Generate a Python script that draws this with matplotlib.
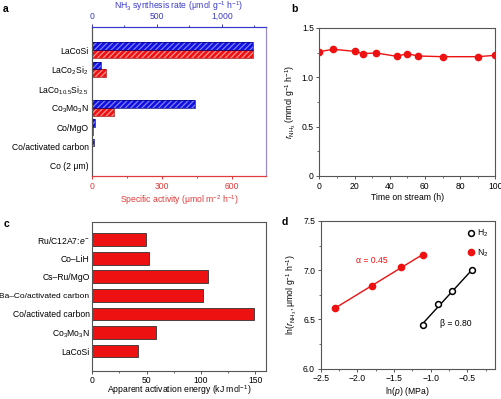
import numpy as np
import matplotlib
matplotlib.use("Agg")
import matplotlib.pyplot as plt
from matplotlib.ticker import MultipleLocator, FixedLocator

plt.rcParams['font.family'] = ['Liberation Sans', 'DejaVu Sans']
plt.rcParams['mathtext.fontset'] = 'custom'
plt.rcParams['mathtext.rm'] = 'Liberation Sans'
plt.rcParams['mathtext.it'] = 'Liberation Sans:italic'
plt.rcParams['mathtext.bf'] = 'Liberation Sans:bold'
plt.rcParams['font.size'] = 6.2
plt.rcParams['axes.linewidth'] = 0.8
plt.rcParams['hatch.linewidth'] = 0.9

# --- panel a: catalysts, rate (top axis) and specific activity (bottom axis)
cat_a = ['LaCoSi', 'LaCo$_2$Si$_2$', 'LaCo$_{10.5}$Si$_{2.5}$', 'Co$_3$Mo$_3$N',
         'Co/MgO', 'Co/activated carbon', 'Co (2 μm)']
rate_a = [1243, 69, 3, 795, 20, 16, 2]
spec_a = [693, 60, 2, 96, 4, 2, 1]

# --- panel b: stability test
time_b = [0, 8, 20, 25, 32, 44, 50, 56, 70, 90, 100]
rnh3_b = [1.26, 1.284, 1.263, 1.24, 1.247, 1.213, 1.24, 1.216, 1.209, 1.209, 1.223]

# --- panel c: apparent activation energy
cat_c = ['Ru/C12A7:$e^{-}$', 'Co–LiH', 'Cs–Ru/MgO', 'Ba–Co/activated carbon',
         'Co/activated carbon', 'Co$_3$Mo$_3$N', 'LaCoSi']
ea_c = [49, 52, 106.6, 102, 149, 59, 42.4]

# --- panel d: reaction orders
lnp_n2 = [-2.31, -1.80, -1.40, -1.11]
lnr_n2 = [6.613, 6.836, 7.036, 7.155]
lnp_h2 = [-1.11, -0.895, -0.705, -0.432]
lnr_h2 = [6.44, 6.653, 6.789, 6.999]

BLUE = '#1010e0'
RED = '#ee1111'
AXBLUE = '#3a3ac8'
AXRED = '#e03a3a'
GRAY = '#555555'

fig = plt.figure(figsize=(5.02, 3.99), dpi=100)


def style_box(ax):
    for s in ax.spines.values():
        s.set_color(GRAY)
    ax.tick_params(which='major', direction='out', length=2.5, width=0.7, color=GRAY, pad=1.5)
    ax.tick_params(which='minor', direction='out', length=1.5, width=0.6, color=GRAY)


# ---------- a
axa = fig.add_axes([0.1833, 0.559, 0.3466, 0.374])
axt = axa.twiny()
ya = np.arange(len(cat_a))[::-1]
h = 0.4
axa.barh(ya - h / 2, spec_a, height=h, color=RED, edgecolor='#ff9090', hatch='//////', linewidth=0)
axa.barh(ya - h / 2, spec_a, height=h, fill=False, edgecolor='#aa0000', linewidth=0.5)
axt.barh(ya + h / 2, rate_a, height=h, color=BLUE, edgecolor='#8080ff', hatch='//////', linewidth=0)
axt.barh(ya + h / 2, rate_a, height=h, fill=False, edgecolor='#000080', linewidth=0.5)
axa.set_xlim(0, 747)
axt.set_xlim(0, 1340)
axa.set_ylim(-0.53, 7.21)
axa.set_yticks(ya)
axa.set_yticklabels(cat_a)
axa.tick_params(axis='y', length=0, pad=2.5)
axa.xaxis.set_major_locator(FixedLocator([0, 300, 600]))
axa.xaxis.set_minor_locator(FixedLocator([150, 450]))
axt.xaxis.set_major_locator(FixedLocator([0, 500, 1000]))
axt.xaxis.set_minor_locator(FixedLocator([250, 750, 1250]))
axt.set_xticklabels(['0', '500', '1,000'])
axa.tick_params(axis='x', which='both', colors=AXRED, direction='out', length=2.5, width=0.7, pad=2)
axa.tick_params(axis='x', which='minor', length=1.5)
axt.tick_params(axis='x', which='both', colors=AXBLUE, direction='out', length=2.5, width=0.7, pad=1.5)
axt.tick_params(axis='x', which='minor', length=1.5)
for ax in (axa, axt):
    ax.spines['bottom'].set_color(AXRED)
    ax.spines['top'].set_color(AXBLUE)
    ax.spines['left'].set_color(GRAY)
    ax.spines['right'].set_color('#9a8aca')
axa.set_xlabel('Specific activity (μmol m$^{-2}$ h$^{-1}$)', color=AXRED, labelpad=1.5)
axt.set_xlabel('NH$_3$ synthesis rate (μmol g$^{-1}$ h$^{-1}$)', color=AXBLUE, labelpad=2)

# ---------- b
axb = fig.add_axes([0.6361, 0.559, 0.3506, 0.3709])
axb.plot(time_b, rnh3_b, '-o', color=RED, markersize=4.5, linewidth=1.0)
axb.set_xlim(0, 100)
axb.set_ylim(0, 1.5)
axb.xaxis.set_major_locator(MultipleLocator(20))
axb.xaxis.set_minor_locator(MultipleLocator(10))
axb.set_yticks([0, 0.5, 1.0, 1.5])
axb.set_yticklabels(['0', '0.5', '1.0', '1.5'])
axb.yaxis.set_minor_locator(MultipleLocator(0.25))
style_box(axb)
axb.set_xlabel('Time on stream (h)', labelpad=1.5)
axb.set_ylabel('$r_{\\mathrm{NH_3}}$ (mmol g$^{-1}$ h$^{-1}$)', labelpad=3)

# ---------- c
axc = fig.add_axes([0.1839, 0.071, 0.346, 0.3734])
yc = np.arange(len(cat_c))[::-1]
axc.barh(yc, ea_c, height=0.68, color=RED, edgecolor='#333333', linewidth=0.6)
axc.set_xlim(0, 160)
axc.set_ylim(-1.06, 6.97)
axc.set_yticks(yc)
axc.set_yticklabels(cat_c)
axc.xaxis.set_major_locator(FixedLocator([0, 50, 100, 150]))
axc.xaxis.set_minor_locator(FixedLocator([25, 75, 125]))
style_box(axc)
axc.tick_params(axis='y', length=0, pad=2)
axc.tick_params(axis='x', pad=1)
axc.get_yticklabels()[3].set_fontsize(6.0)
# x label placed by hand so it stays inside the figure
fig.text(0.1839 + 0.346 / 2, 0.004, 'Apparent activation energy (kJ mol$^{-1}$)',
         ha='center', va='bottom')

# ---------- d
axd = fig.add_axes([0.6388, 0.0764, 0.3472, 0.3699])
fit_n2 = np.polyfit(lnp_n2, lnr_n2, 1)
fit_h2 = np.polyfit(lnp_h2, lnr_h2, 1)
xn = np.array([min(lnp_n2), max(lnp_n2)])
xh = np.array([min(lnp_h2), max(lnp_h2)])
axd.plot(xn, np.polyval(fit_n2, xn), color=RED, linewidth=1.0)
axd.plot(xh, np.polyval(fit_h2, xh), color='black', linewidth=1.0)
axd.plot(lnp_h2, lnr_h2, 'o', mfc='white', mec='black', mew=1.1, markersize=4.2, label='H$_2$')
axd.plot(lnp_n2, lnr_n2, 'o', color=RED, markersize=4.5, label='N$_2$')
axd.set_xlim(-2.5, -0.125)
axd.set_ylim(6.0, 7.5)
axd.xaxis.set_major_locator(FixedLocator([-2.5, -2.0, -1.5, -1.0, -0.5]))
axd.xaxis.set_minor_locator(FixedLocator([-2.25, -1.75, -1.25, -0.75, -0.25]))
axd.set_xticklabels(['−2.5', '−2.0', '−1.5', '−1.0', '−0.5'])
axd.yaxis.set_major_locator(MultipleLocator(0.5))
axd.yaxis.set_minor_locator(MultipleLocator(0.25))
axd.yaxis.set_major_formatter(matplotlib.ticker.FormatStrFormatter('%.1f'))
style_box(axd)
axd.text(-1.8, 7.1, 'α = 0.45', color=RED, ha='center', va='center')
axd.text(-0.66, 6.46, 'β = 0.80', color='black', ha='center', va='center')
axd.legend(loc='upper right', frameon=False, handletextpad=0.1, labelspacing=0.9,
           borderaxespad=0.4, handlelength=1.2)
axd.set_xlabel('ln($p$) (MPa)', labelpad=1.5)
axd.set_ylabel('ln($r_{\\mathrm{NH_3}}$, μmol g$^{-1}$ h$^{-1}$)', labelpad=3)

# panel letters
for lbl, x, y in [('a', 0.006, 0.99), ('b', 0.581, 0.99), ('c', 0.008, 0.452), ('d', 0.562, 0.455)]:
    fig.text(x, y, lbl, fontsize=7.5, fontweight='bold', va='top', ha='left')

fig.savefig('out.png', dpi=100)
